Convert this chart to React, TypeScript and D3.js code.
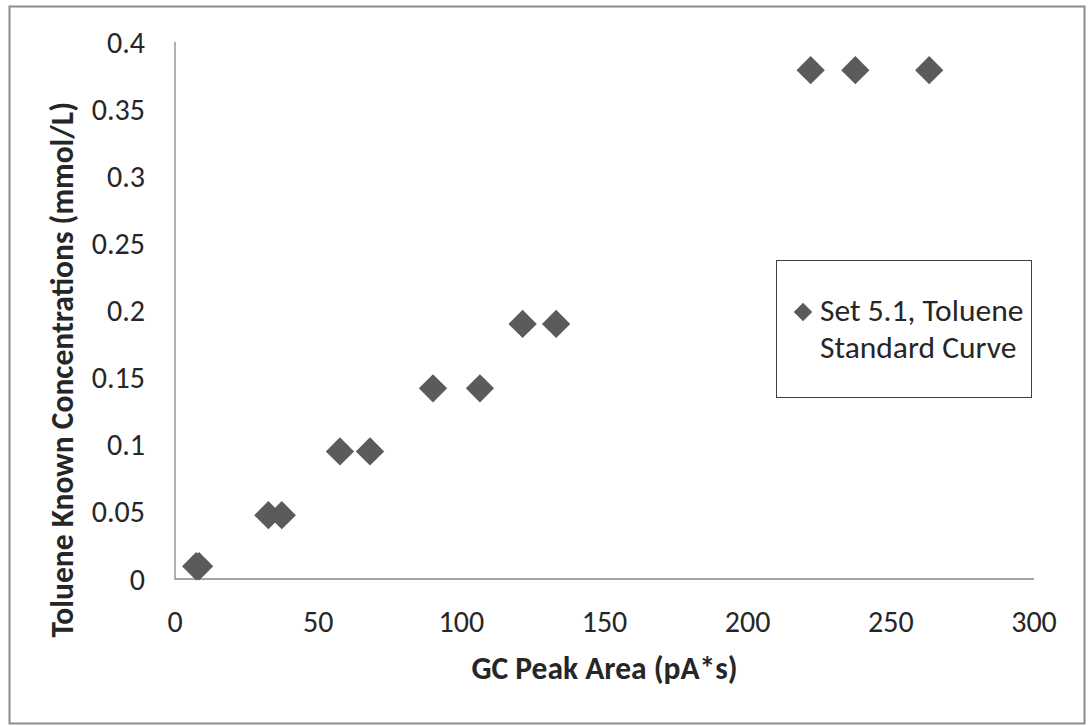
import React from "react";
import * as d3 from "d3";

const peakArea: number[] = [7.4, 8.4, 32.6, 37.3, 57.6, 68.1, 90.1, 106.5, 121.4, 133.1, 222.0, 237.6, 263.4];
const concentration: number[] = [0.0095, 0.0095, 0.0475, 0.0475, 0.095, 0.095, 0.142, 0.142, 0.19, 0.19, 0.379, 0.379, 0.379];
const xTicks: number[] = [0, 50, 100, 150, 200, 250, 300];
const yTicks: number[] = [0, 0.05, 0.1, 0.15, 0.2, 0.25, 0.3, 0.35, 0.4];
const seriesName: string[] = ["Set 5.1, Toluene", "Standard Curve"];
const xTitle = "GC Peak Area (pA*s)";
const yTitle = "Toluene Known Concentrations (mmol/L)";

const W = 1088;
const H = 726;
const FONT = "Carlito, Calibri, Lato, 'Noto Sans', sans-serif";
const TEXT = "#262626";
const AXIS = "#868686";
const MARK = "#5b5b5b";

export default function App() {
  const x = d3.scaleLinear().domain([0, 300]).range([175, 1034]);
  const y = d3.scaleLinear().domain([0, 0.4]).range([579, 42]);
  const bigDiamond = d3.symbol(d3.symbolSquare, 400)() as string;
  const smallDiamond = d3.symbol(d3.symbolSquare, 170)() as string;

  return (
    <svg
      width={W}
      height={H}
      viewBox={`0 0 ${W} ${H}`}
      style={{ position: "absolute", left: 0, top: 0, background: "#fff" }}
      fontFamily={FONT}
    >
      <rect x={0} y={0} width={W} height={H} fill="#fff" />
      <rect x={9.5} y={6.5} width={1075} height={717} fill="#fff" stroke="#8c8c8c" strokeWidth={2} />

      {/* axes */}
      <line x1={x(0)} x2={x(0)} y1={y(0.4)} y2={y(0) + 0.5} stroke={AXIS} strokeWidth={1.3} />
      <line x1={x(0)} x2={x(300)} y1={y(0)} y2={y(0)} stroke={AXIS} strokeWidth={1.3} />

      {/* y tick labels */}
      {yTicks.map((t) => (
        <text key={"y" + t} x={145} y={y(t)} dy="0.35em" textAnchor="end" fontSize={30} fill={TEXT}>
          {String(t)}
        </text>
      ))}

      {/* x tick labels */}
      {xTicks.map((t) => (
        <text key={"x" + t} x={x(t)} y={632} textAnchor="middle" fontSize={30} fill={TEXT}>
          {String(t)}
        </text>
      ))}

      {/* axis titles */}
      <text x={(x(0) + x(300)) / 2} y={679} textAnchor="middle" fontSize={31.5} fontWeight="bold" fill={TEXT}>
        {xTitle}
      </text>
      <text
        transform="translate(73, 102) rotate(-90)"
        textAnchor="end"
        fontSize={31.5}
        fontWeight="bold"
        fill={TEXT}
      >
        {yTitle}
      </text>

      {/* points */}
      {peakArea.map((v, i) => (
        <path
          key={"p" + i}
          d={bigDiamond}
          transform={`translate(${x(v)}, ${y(concentration[i])}) rotate(45)`}
          fill={MARK}
        />
      ))}

      {/* legend */}
      <rect x={776.5} y={260.5} width={255} height={137} fill="#fff" stroke="#404040" strokeWidth={1} />
      <path d={smallDiamond} transform="translate(803, 312) rotate(45)" fill={MARK} />
      <text x={820} y={321} fontSize={31.5} fill={TEXT}>
        {seriesName[0]}
      </text>
      <text x={820} y={358} fontSize={31.5} fill={TEXT}>
        {seriesName[1]}
      </text>
    </svg>
  );
}
